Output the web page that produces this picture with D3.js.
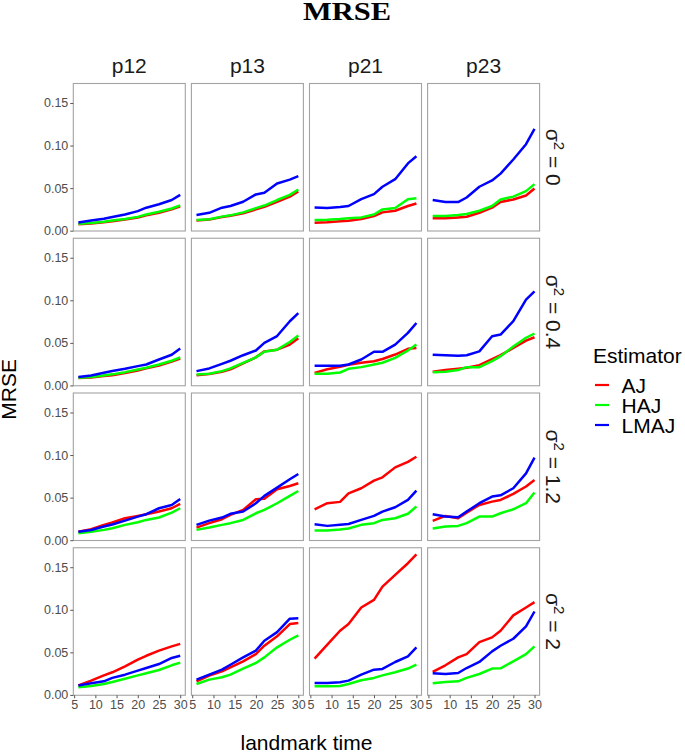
<!DOCTYPE html>
<html><head><meta charset="utf-8">
<script src="https://cdn.jsdelivr.net/npm/d3@7/dist/d3.min.js"></script>
<style>body{margin:0;background:#fff}svg{display:block}</style>
</head><body>
<svg id="chart" width="685" height="753"></svg>
<script>
// ---- data ----
const times = [6, 9, 12, 14, 17, 20, 22, 25, 28, 30];
const probs = ["p12", "p13", "p21", "p23"];
const sigmas = ["0", "0.4", "1.2", "2"];
const estimators = ["AJ", "HAJ", "LMAJ"];
const estColors = ["#ff0000", "#00ff00", "#0000ff"];
const xTicks = [5, 10, 15, 20, 25, 30];
const yTicks = [0, 0.05, 0.10, 0.15];

// each array: [p12, p13, p21, p23]
const AJ_s0 = [
  [0.0075,0.0085,0.0100,0.0112,0.0132,0.0155,0.0180,0.0210,0.0250,0.0285],
  [0.0120,0.0130,0.0160,0.0175,0.0205,0.0250,0.0280,0.0340,0.0400,0.0460],
  [0.0094,0.0100,0.0110,0.0117,0.0137,0.0172,0.0215,0.0234,0.0290,0.0320],
  [0.0145,0.0145,0.0156,0.0164,0.0210,0.0270,0.0336,0.0367,0.0414,0.0496]];
const HAJ_s0 = [
  [0.0080,0.0090,0.0105,0.0120,0.0138,0.0162,0.0190,0.0222,0.0260,0.0297],
  [0.0125,0.0135,0.0165,0.0180,0.0215,0.0265,0.0295,0.0360,0.0420,0.0484],
  [0.0125,0.0129,0.0137,0.0145,0.0156,0.0190,0.0250,0.0266,0.0370,0.0380],
  [0.0172,0.0172,0.0184,0.0195,0.0234,0.0290,0.0367,0.0400,0.0465,0.0547]];
const LMAJ_s0 = [
  [0.0095,0.0120,0.0140,0.0160,0.0190,0.0230,0.0270,0.0310,0.0360,0.0420],
  [0.0184,0.0210,0.0270,0.0290,0.0340,0.0426,0.0445,0.0555,0.0600,0.0640],
  [0.0273,0.0266,0.0277,0.0290,0.0370,0.0430,0.0516,0.0605,0.0790,0.0875],
  [0.0360,0.0336,0.0336,0.0390,0.0516,0.0590,0.0670,0.0836,0.1016,0.1195]];

const AJ_s04 = [
  [0.0086,0.0094,0.0110,0.0120,0.0145,0.0176,0.0200,0.0234,0.0280,0.0316],
  [0.0121,0.0133,0.0160,0.0190,0.0260,0.0330,0.0400,0.0420,0.0480,0.0555],
  [0.0148,0.0190,0.0219,0.0242,0.0266,0.0285,0.0310,0.0363,0.0430,0.0441],
  [0.0160,0.0180,0.0195,0.0207,0.0238,0.0310,0.0355,0.0440,0.0527,0.0566]];
const HAJ_s04 = [
  [0.0090,0.0098,0.0117,0.0130,0.0156,0.0187,0.0207,0.0246,0.0290,0.0330],
  [0.0129,0.0137,0.0168,0.0200,0.0266,0.0330,0.0395,0.0420,0.0510,0.0586],
  [0.0137,0.0137,0.0152,0.0195,0.0215,0.0246,0.0266,0.0324,0.0410,0.0480],
  [0.0156,0.0160,0.0180,0.0215,0.0215,0.0285,0.0344,0.0457,0.0560,0.0610]];
const LMAJ_s04 = [
  [0.0100,0.0117,0.0150,0.0170,0.0195,0.0227,0.0246,0.0305,0.0360,0.0434],
  [0.0168,0.0200,0.0254,0.0290,0.0355,0.0410,0.0500,0.0580,0.0754,0.0850],
  [0.0230,0.0230,0.0230,0.0246,0.0305,0.0395,0.0395,0.0480,0.0617,0.0734],
  [0.0360,0.0355,0.0348,0.0355,0.0400,0.0578,0.0598,0.0754,0.1008,0.1105]];

const AJ_s12 = [
  [0.0100,0.0129,0.0180,0.0207,0.0258,0.0285,0.0305,0.0336,0.0375,0.0426],
  [0.0148,0.0200,0.0246,0.0297,0.0355,0.0480,0.0488,0.0598,0.0637,0.0668],
  [0.0363,0.0434,0.0450,0.0550,0.0610,0.0700,0.0738,0.0855,0.0920,0.0980],
  [0.0227,0.0285,0.0258,0.0324,0.0414,0.0453,0.0473,0.0543,0.0630,0.0707]];
const HAJ_s12 = [
  [0.0082,0.0098,0.0121,0.0140,0.0180,0.0210,0.0238,0.0266,0.0324,0.0375],
  [0.0121,0.0148,0.0180,0.0200,0.0238,0.0316,0.0355,0.0434,0.0520,0.0578],
  [0.0113,0.0113,0.0125,0.0137,0.0180,0.0200,0.0238,0.0258,0.0310,0.0395],
  [0.0137,0.0160,0.0168,0.0200,0.0277,0.0277,0.0316,0.0363,0.0434,0.0559]];
const LMAJ_s12 = [
  [0.0100,0.0120,0.0160,0.0184,0.0230,0.0277,0.0305,0.0375,0.0414,0.0484],
  [0.0180,0.0230,0.0266,0.0310,0.0336,0.0434,0.0520,0.0617,0.0715,0.0777],
  [0.0188,0.0168,0.0180,0.0190,0.0238,0.0285,0.0336,0.0387,0.0473,0.0582],
  [0.0305,0.0277,0.0270,0.0336,0.0434,0.0512,0.0527,0.0610,0.0785,0.0970]];

const AJ_s2 = [
  [0.0113,0.0168,0.0230,0.0266,0.0336,0.0414,0.0460,0.0520,0.0570,0.0600],
  [0.0160,0.0227,0.0277,0.0324,0.0395,0.0480,0.0578,0.0688,0.0832,0.0844],
  [0.0426,0.0590,0.0754,0.0832,0.1027,0.1117,0.1273,0.1410,0.1547,0.1650],
  [0.0270,0.0348,0.0441,0.0480,0.0620,0.0676,0.0754,0.0934,0.1027,0.1090]];
const HAJ_s2 = [
  [0.0090,0.0105,0.0129,0.0152,0.0190,0.0230,0.0254,0.0293,0.0348,0.0380],
  [0.0129,0.0180,0.0207,0.0238,0.0310,0.0375,0.0441,0.0559,0.0648,0.0700],
  [0.0102,0.0102,0.0105,0.0129,0.0172,0.0200,0.0230,0.0266,0.0310,0.0355],
  [0.0137,0.0152,0.0160,0.0200,0.0246,0.0310,0.0313,0.0395,0.0480,0.0570]];
const LMAJ_s2 = [
  [0.0110,0.0137,0.0160,0.0200,0.0238,0.0285,0.0316,0.0363,0.0434,0.0460],
  [0.0180,0.0238,0.0297,0.0355,0.0441,0.0520,0.0637,0.0738,0.0895,0.0900],
  [0.0140,0.0140,0.0148,0.0168,0.0238,0.0297,0.0305,0.0387,0.0453,0.0559],
  [0.0254,0.0246,0.0258,0.0316,0.0387,0.0512,0.0578,0.0660,0.0805,0.0980]];

// rows (sigma) x estimators
const rowsData = [
  [AJ_s0, HAJ_s0, LMAJ_s0],
  [AJ_s04, HAJ_s04, LMAJ_s04],
  [AJ_s12, HAJ_s12, LMAJ_s12],
  [AJ_s2, HAJ_s2, LMAJ_s2]];

// ---- layout ----
const FONT = "'Liberation Sans', Arial, Helvetica, sans-serif";
const left0 = 73.3, pw = 112, gapX = 6.1;
const top0 = 83.5, ph = 147.5, gapY = 7.25;

const svg = d3.select("#chart");
svg.append("rect").attr("width", 685).attr("height", 753).attr("fill", "#fff");

// shared scales with ggplot-like 5% expansion
const xExt = d3.extent(times);
const xPad = (xExt[1] - xExt[0]) * 0.05;
const x = d3.scaleLinear().domain([xExt[0] - xPad, xExt[1] + xPad]).range([0, pw]);
const allVals = rowsData.flat(3);
const yExt = d3.extent(allVals);
const yPad = (yExt[1] - yExt[0]) * 0.05;
const y = d3.scaleLinear().domain([yExt[0] - yPad, yExt[1] + yPad]).range([ph, 0]);

const line = d3.line().x((d, i) => x(times[i])).y(d => y(d));

rowsData.forEach((rowSets, r) => {
  probs.forEach((p, c) => {
    const g = svg.append("g")
      .attr("transform", `translate(${left0 + c * (pw + gapX)},${top0 + r * (ph + gapY)})`);
    g.append("rect").attr("width", pw).attr("height", ph).attr("fill", "#fff");
    rowSets.forEach((est, e) => {
      g.append("path").datum(est[c])
        .attr("d", line)
        .attr("fill", "none")
        .attr("stroke", estColors[e])
        .attr("stroke-width", 2.5)
        .attr("stroke-linejoin", "round");
    });
    g.append("rect").attr("width", pw).attr("height", ph)
      .attr("fill", "none").attr("stroke", "#a3a3a3").attr("stroke-width", 1.1);

    if (c === 0) {
      const ay = g.append("g").call(d3.axisLeft(y).tickValues(yTicks)
        .tickFormat(d3.format(".2f")).tickSize(3).tickPadding(2));
      ay.select(".domain").remove();
      ay.selectAll("line").attr("stroke", "#555");
      ay.selectAll("text").attr("fill", "#4d4d4d").style("font-family", FONT).style("font-size", "12.5px");
    }
    if (r === rowsData.length - 1) {
      const ax = g.append("g").attr("transform", `translate(0,${ph})`)
        .call(d3.axisBottom(x).tickValues(xTicks).tickSize(3).tickPadding(1.5));
      ax.select(".domain").remove();
      ax.selectAll("line").attr("stroke", "#555");
      ax.selectAll("text").attr("fill", "#4d4d4d").style("font-family", FONT).style("font-size", "12.5px");
    }
    if (r === 0) {
      svg.append("text")
        .attr("x", left0 + c * (pw + gapX) + pw / 2).attr("y", 73)
        .attr("text-anchor", "middle")
        .style("font-family", FONT).style("font-size", "21px").attr("fill", "#1a1a1a")
        .text(p);
    }
  });
  // row strip label
  const cy = top0 + r * (ph + gapY) + ph / 2;
  const t = svg.append("text")
    .attr("transform", `translate(553.5,${cy}) rotate(90)`)
    .attr("x", 0).attr("y", 7.5)
    .attr("text-anchor", "middle")
    .style("font-family", FONT).style("font-size", "21px").attr("fill", "#1a1a1a");
  t.append("tspan").text("σ");
  t.append("tspan").attr("dy", -8).style("font-size", "15px").text("2");
  t.append("tspan").attr("dy", 8).text(" = " + sigmas[r]);
});

// title
svg.append("text").attr("x", 347).attr("y", 20)
  .attr("text-anchor", "middle")
  .style("font-family", "'Liberation Serif', 'DejaVu Serif', serif")
  .style("font-weight", "bold").style("font-size", "26px")
  .attr("textLength", 88).attr("lengthAdjust", "spacingAndGlyphs")
  .text("MRSE");

// axis titles
const panelsRight = left0 + 3 * (pw + gapX) + pw;
svg.append("text").attr("x", (left0 + panelsRight) / 2).attr("y", 750)
  .attr("text-anchor", "middle")
  .style("font-family", FONT).style("font-size", "21px").text("landmark time");
const panelsBottom = top0 + 3 * (ph + gapY) + ph;
svg.append("text")
  .attr("transform", `translate(16,${(top0 + panelsBottom) / 2}) rotate(-90)`)
  .attr("text-anchor", "middle")
  .style("font-family", FONT).style("font-size", "21px").text("MRSE");

// legend
const lg = svg.append("g");
lg.append("text").attr("x", 593).attr("y", 362.5)
  .style("font-family", FONT).style("font-size", "21px").text("Estimator");
estimators.forEach((e, i) => {
  const ly = 385 + i * 20;
  lg.append("line").attr("x1", 595).attr("x2", 609).attr("y1", ly).attr("y2", ly)
    .attr("stroke", estColors[i]).attr("stroke-width", 2.2);
  lg.append("text").attr("x", 621.5).attr("y", ly + 7.5)
    .style("font-family", FONT).style("font-size", "21px").text(e);
});
</script>
</body></html>
